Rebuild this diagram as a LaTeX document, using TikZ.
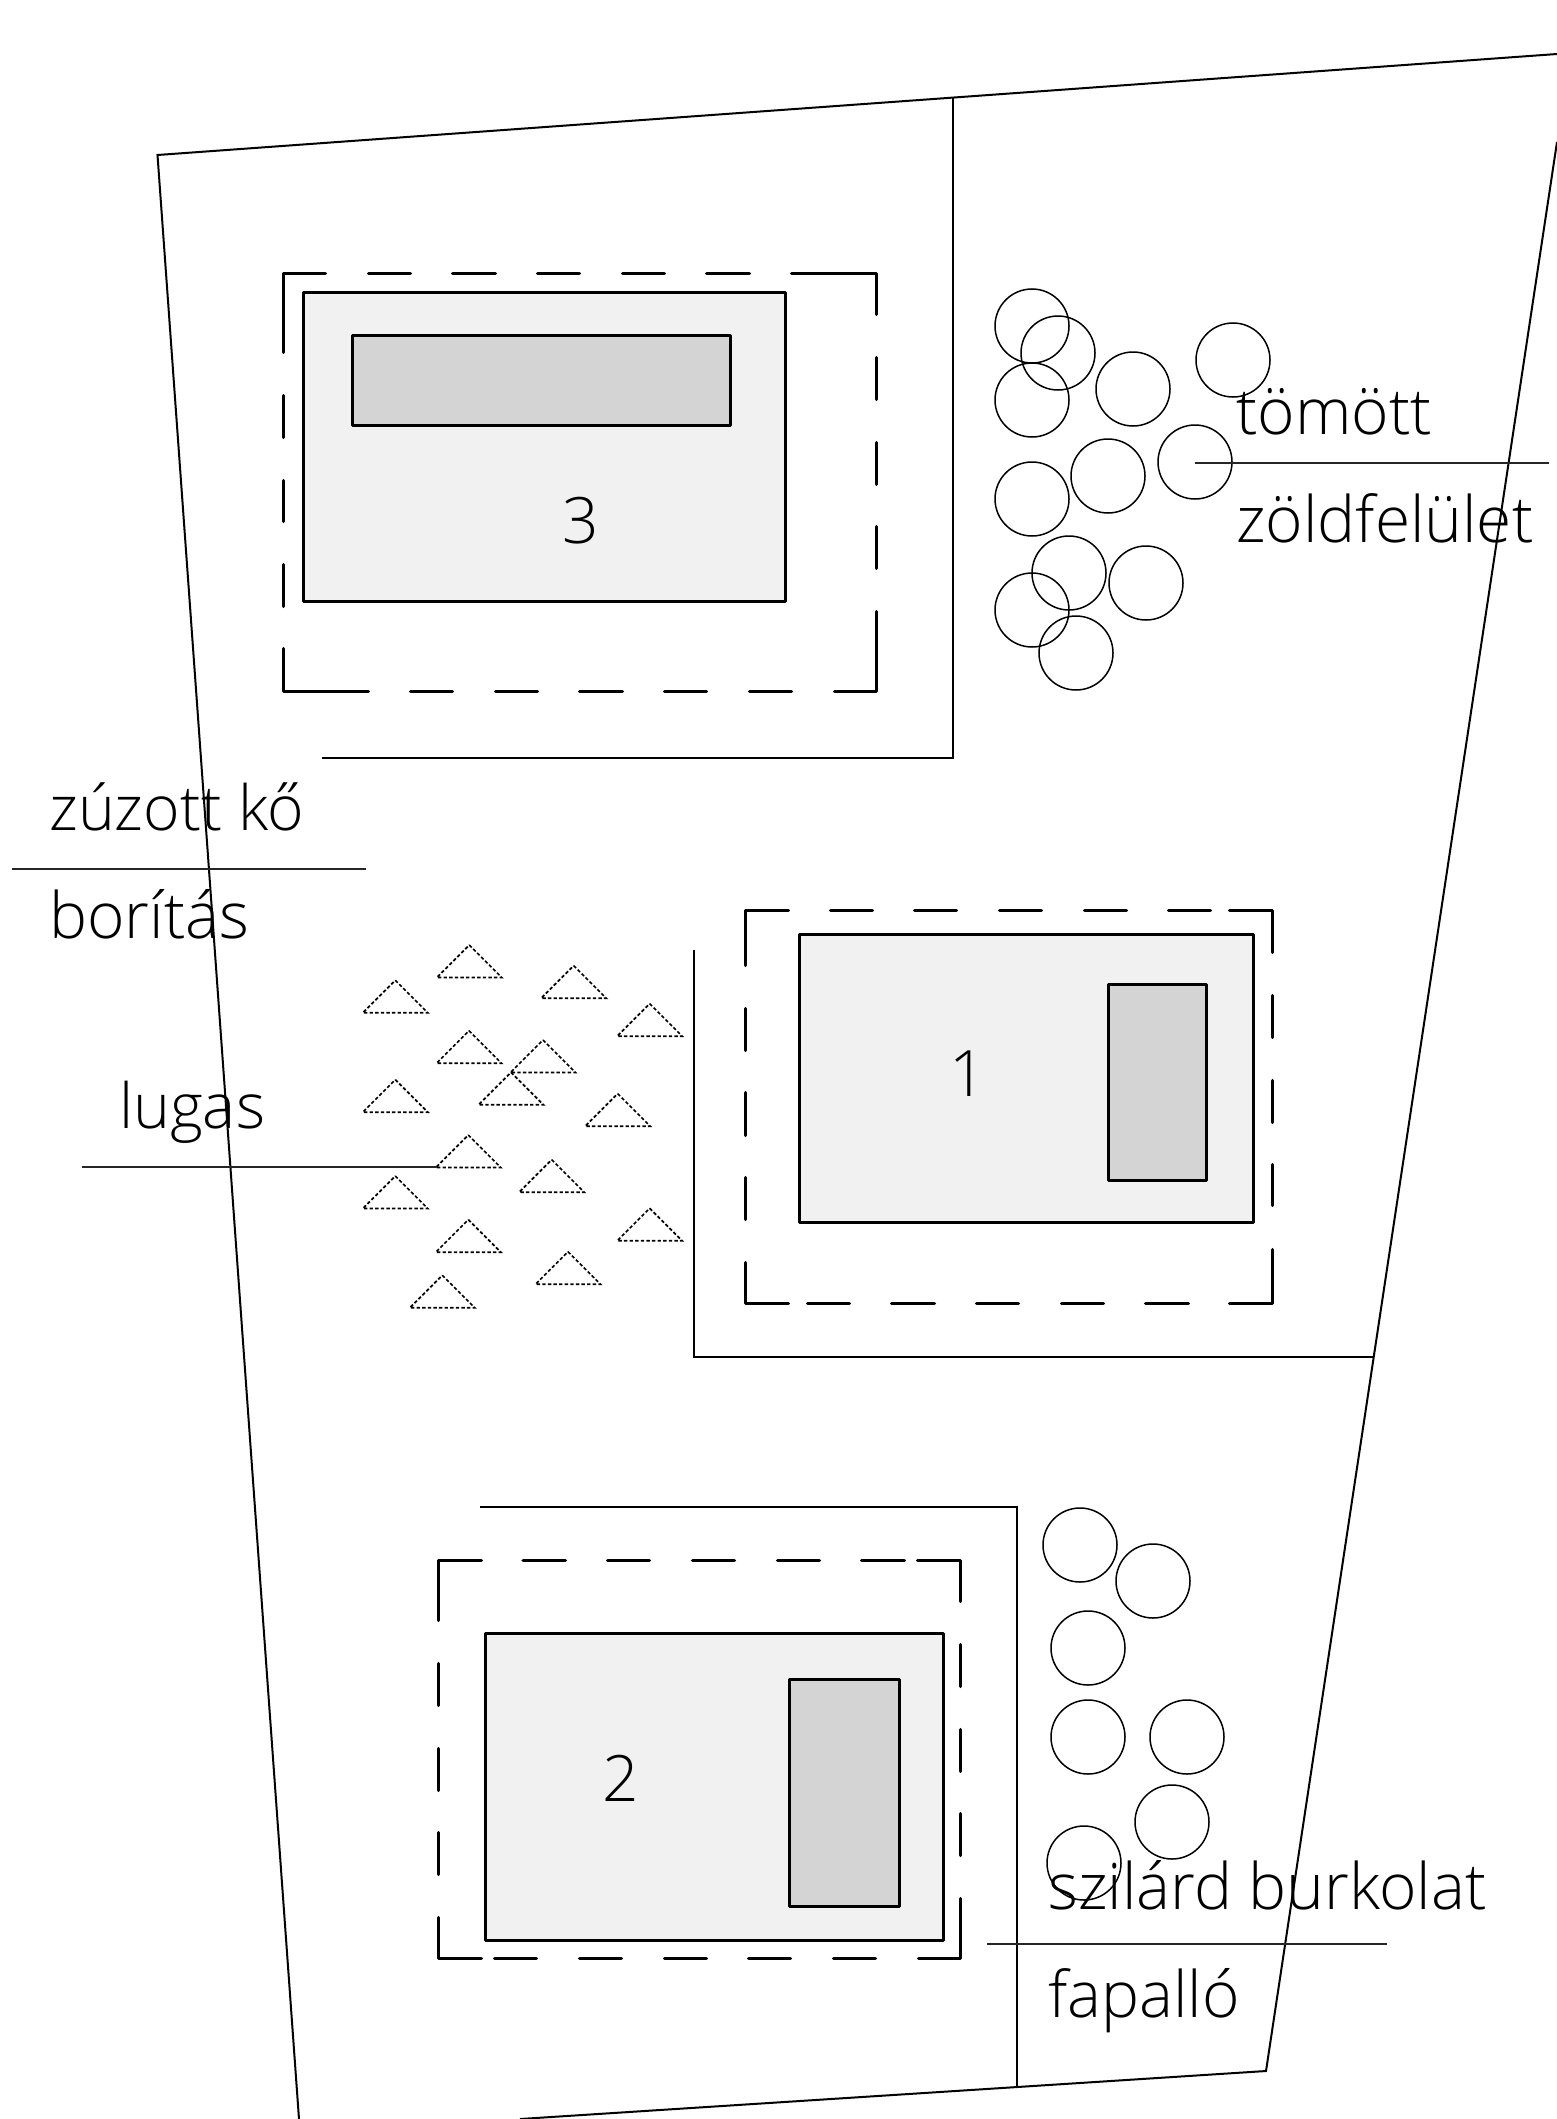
\documentclass[tikz,border=0pt]{standalone}
\usepackage{fontspec}
\setmainfont{Open Sans Light}
\newcommand{\HD}[2]{\foreach \a/\b in {#2} \draw[terrace] (\a,#1) -- (\b,#1);}
\newcommand{\VD}[2]{\foreach \a/\b in {#2} \draw[terrace] (#1,\a) -- (#1,\b);}
\tikzset{
  x=0.5pt,y=-0.5pt,
  thin line/.style={draw=black,line width=1pt},
  leader/.style={draw=black!85,line width=1pt},
  plan box/.style={draw=black,line width=1.8pt,line join=round},
  room/.style={plan box,fill=black!5.5},
  core/.style={plan box,fill=black!17},
  terrace/.style={draw=black,line width=1.8pt,line cap=round,line join=round,shorten >=0.8pt,shorten <=0.8pt},
  tree/.style={draw=black,line width=0.75pt},
  arbor/.style={draw=black,line width=0.85pt,dash pattern=on 1.7pt off 1.1pt},
  lab/.style={anchor=base west,inner sep=0pt,font=\fontsize{32}{36}\selectfont},
  num/.style={inner sep=0pt,font=\fontsize{32}{36}\selectfont}
}
\begin{document}
\begin{tikzpicture}
\useasboundingbox (0,0) rectangle (1557,2119);
\clip (0,0) rectangle (1557,2119);
% site boundary
\draw[thin line] (1557,54) -- (157.5,155) -- (299,2119);
\draw[thin line] (1557,142) -- (1266,2071) -- (520,2119);
% dividers
\draw[thin line] (953,97) -- (953,758) -- (322,758);
\draw[thin line] (694,950) -- (694,1357) -- (1373,1357);
\draw[thin line] (480,1507) -- (1017,1507) -- (1017,2088);
% block 3
\draw[room] (303.5,292.5) rectangle (785.5,601.5);
\draw[core] (352.5,335.5) rectangle (730.5,425.5);
\node[num] (n3) at (581,521) {3};
\draw[terrace] (283.5,354) -- (283.5,273.5) -- (327,273.5);
\draw[terrace] (790,273.5) -- (876.5,273.5) -- (876.5,316);
\draw[terrace] (876.5,610) -- (876.5,691.5) -- (833,691.5);
\draw[terrace] (370,691.5) -- (283.5,691.5) -- (283.5,647);
\HD{273.5}{367/412,451/497,536/581,621/666,705/751}
\HD{691.5}{409/454,494/539,578/624,663/708,748/793}
\VD{283.5}{394/439,479/523,563/608}
\VD{876.5}{356/401,441/486,525/570}
% block 1
\draw[room] (799.5,934.5) rectangle (1253.5,1222.5);
\draw[core] (1108.5,984.5) rectangle (1206.5,1180.5);
\node[num] (n1) at (968,1074) {1};
\draw[terrace] (745.5,967) -- (745.5,910.5) -- (790,910.5);
\draw[terrace] (1228,910.5) -- (1272.5,910.5) -- (1272.5,954);
\draw[terrace] (1272.5,1248) -- (1272.5,1303.5) -- (1228,1303.5);
\draw[terrace] (790,1303.5) -- (745.5,1303.5) -- (745.5,1261);
\HD{910.5}{829/874,913/958,998/1043,1083/1128,1167/1212}
\HD{1303.5}{806/851,890/936,975/1020,1060/1105,1144/1190}
\VD{745.5}{1007/1052,1091/1137,1176/1221}
\VD{1272.5}{994/1039,1079/1124,1163/1207}
% block 2
\draw[room] (485.5,1633.5) rectangle (943.5,1940.5);
\draw[core] (789.5,1679.5) rectangle (899.5,1906.5);
\node[num] (n2) at (621,1778) {2};
\draw[terrace] (438.5,1622) -- (438.5,1560.5) -- (483,1560.5);
\draw[terrace] (916,1560.5) -- (960.5,1560.5) -- (960.5,1603);
\draw[terrace] (960.5,1897) -- (960.5,1958.5) -- (917,1958.5);
\draw[terrace] (483,1958.5) -- (438.5,1958.5) -- (438.5,1916);
\HD{1560.5}{521.5/567,606/651,691/736,776/821,860/906}
\HD{1958.5}{493/538,578/623,663/708,747/792,832/877}
\VD{438.5}{1662/1707,1747/1792,1831/1876}
\VD{960.5}{1643/1688,1728/1773,1812/1857}
% trees
\foreach \cx/\cy in {1032/326,1058/353,1032/400,1133/389,1233/360,1195/462,1108/476,1032/499,1069/573,1146/583,1032/610,1076/653,
  1080/1545,1153/1581,1088/1648,1088/1737,1187/1737,1172/1822,1084/1863}
  \draw[tree] (\cx,\cy) circle[radius=37];
% arbours
\foreach \ax/\ay in {469.3/945,395.3/980.3,573.7/965.7,649.7/1003.7,469/1030.7,543/1040,395.3/1079.7,511/1072.3,617.7/1093.7,468.3/1135,551.7/1159.7,395.3/1176,468.3/1219.7,649.7/1208.3,568/1251.7,442.3/1275.3}
  \draw[arbor] (\ax,\ay) -- ++(32.5,32.5) -- ++(-65,0) -- cycle;
% labels and leaders
\draw[leader] (1195,463) -- (1549,463);
\node[lab] (t1) at (1236,434) {tömött};
\node[lab] (t2) at (1236,542) {zöldfelület};
\draw[leader] (12,869) -- (366,869);
\node[lab,font=\fontsize{31.2}{36}\selectfont] (t3) at (49,830) {zúzott kő};
\node[lab] (t4) at (49,938) {borítás};
\draw[leader] (82,1167) -- (437,1167);
\node[lab,font=\fontsize{31.2}{36}\selectfont] (t5) at (119,1128) {lugas};
\draw[leader] (987,1944) -- (1387,1944);
\node[lab] (t6) at (1048,1909) {szilárd burkolat};
\node[lab] (t7) at (1048,2017) {fapalló};
\end{tikzpicture}
\end{document}
